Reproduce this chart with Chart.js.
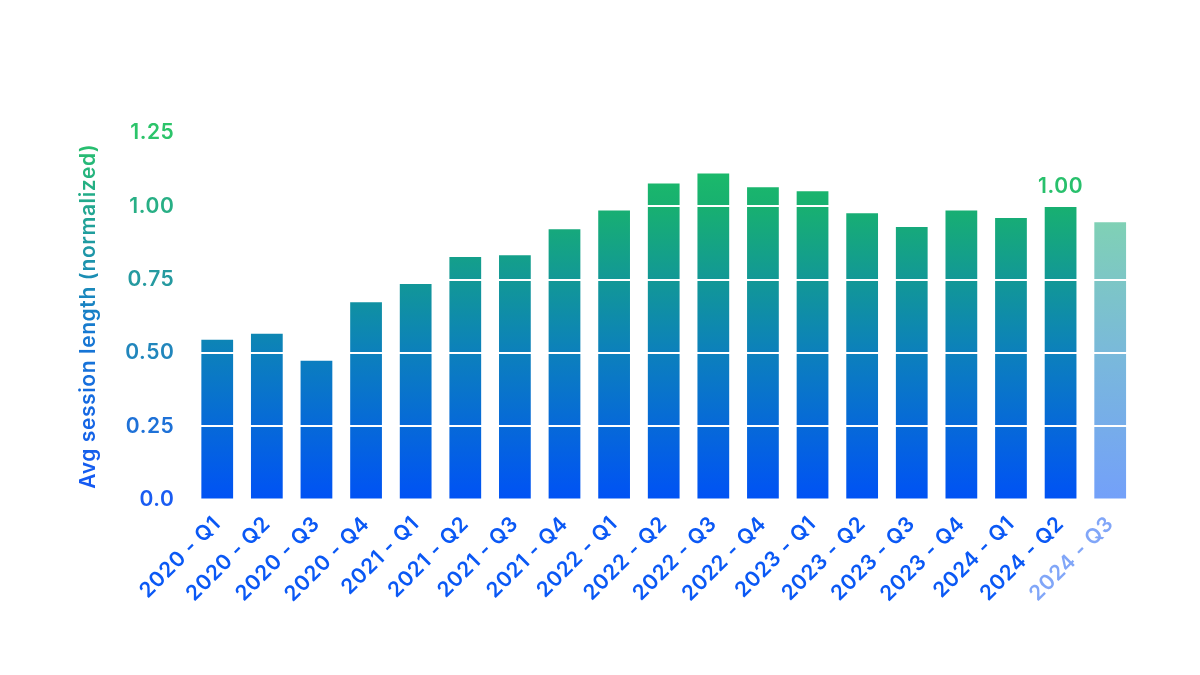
<!DOCTYPE html>
<html>
<head>
<meta charset="utf-8">
<script src="https://cdn.jsdelivr.net/npm/chart.js@4.4.1/dist/chart.umd.min.js"></script>
<style>
  html, body { margin: 0; padding: 0; background: #ffffff; }
  #wrap { width: 1200px; height: 675px; }
</style>
</head>
<body>
<div id="wrap"><canvas id="myChart" width="1200" height="675"></canvas></div>
<script>
const quarters = [
  "2020 - Q1", "2020 - Q2", "2020 - Q3", "2020 - Q4",
  "2021 - Q1", "2021 - Q2", "2021 - Q3", "2021 - Q4",
  "2022 - Q1", "2022 - Q2", "2022 - Q3", "2022 - Q4",
  "2023 - Q1", "2023 - Q2", "2023 - Q3", "2023 - Q4",
  "2024 - Q1", "2024 - Q2", "2024 - Q3"
];
const sessionLength = [
  0.545, 0.565, 0.473, 0.673,
  0.735, 0.827, 0.833, 0.922,
  0.986, 1.078, 1.112, 1.065,
  1.051, 0.976, 0.929, 0.986,
  0.960, 1.00, 0.946
];
// last quarter is still in progress -> drawn faded
const partialQuarter = [
  false, false, false, false, false, false, false, false, false, false,
  false, false, false, false, false, false, false, false, true
];
const yTicks = [0, 0.25, 0.5, 0.75, 1.0, 1.25];
const labelledIndex = 17;

const BLUE = [26, 92, 242];
const GREEN = [44, 196, 106];
const FONT = "Inter";

function mix(a, b, t, alpha) {
  t = Math.max(0, Math.min(1, t));
  const c = a.map((v, i) => Math.round(v + (b[i] - v) * t));
  return `rgba(${c[0]}, ${c[1]}, ${c[2]}, ${alpha === undefined ? 1 : alpha})`;
}

const ctx = document.getElementById("myChart").getContext("2d");

// gradient for the rotated axis title (rotated coordinate space, +x is up)
const titleGradient = ctx.createLinearGradient(-175, 0, 175, 0);
titleGradient.addColorStop(0, "rgb(20, 88, 244)");
titleGradient.addColorStop(0.45, "rgb(22, 120, 210)");
titleGradient.addColorStop(1, "rgb(40, 192, 108)");

const barGradients = {};
function barFill(context) {
  const chart = context.chart;
  const area = chart.chartArea;
  if (!area) return "rgb(0, 85, 240)";
  const faded = partialQuarter[context.dataIndex];
  const key = (faded ? "f" : "s") + area.top + "-" + area.bottom;
  if (!barGradients[key]) {
    const a = faded ? 0.55 : 1;
    const g = chart.ctx.createLinearGradient(0, area.bottom, 0, area.top);
    g.addColorStop(0, `rgba(0, 82, 245, ${a})`);
    g.addColorStop(0.4, `rgba(12, 128, 188, ${a})`);
    g.addColorStop(0.8, `rgba(24, 176, 112, ${a})`);
    g.addColorStop(1, `rgba(30, 196, 100, ${a})`);
    barGradients[key] = g;
  }
  return barGradients[key];
}

// the reference type is a wide geometric face, so open the spacing a little
const spacing = {
  id: "spacing",
  beforeUpdate(chart) { chart.ctx.letterSpacing = "0.6px"; },
  beforeDraw(chart) { chart.ctx.letterSpacing = "0.6px"; }
};

const valueLabel = {
  id: "valueLabel",
  afterDatasetsDraw(chart) {
    const bar = chart.getDatasetMeta(0).data[labelledIndex];
    if (!bar) return;
    const c = chart.ctx;
    c.save();
    c.font = `600 21px ${FONT}`;
    c.fillStyle = "rgb(40, 192, 108)";
    c.textAlign = "center";
    c.textBaseline = "bottom";
    c.fillText(sessionLength[labelledIndex].toFixed(2), bar.x, bar.y - 9);
    c.restore();
  }
};

new Chart(ctx, {
  type: "bar",
  data: {
    labels: quarters,
    datasets: [{
      label: "Avg session length (normalized)",
      data: sessionLength,
      backgroundColor: barFill,
      borderWidth: 0,
      barPercentage: 0.8,
      categoryPercentage: 0.8
    }]
  },
  options: {
    responsive: false,
    animation: false,
    layout: { padding: { left: 76, right: 65, top: 133, bottom: 64 } },
    plugins: {
      legend: { display: false },
      tooltip: { enabled: false }
    },
    scales: {
      x: {
        grid: { display: false },
        border: { display: false },
        ticks: {
          maxRotation: 45,
          minRotation: 45,
          padding: 4,
          font: { family: FONT, size: 21, weight: 600 },
          color: (c) => partialQuarter[c.index] ? "rgba(26, 92, 242, 0.55)" : "rgb(10, 88, 245)"
        }
      },
      y: {
        min: 0,
        max: 1.25,
        afterBuildTicks: (axis) => { axis.ticks = yTicks.map(v => ({ value: v })); },
        border: { display: false },
        grid: { color: "#ffffff", lineWidth: 2, drawTicks: false, z: 1 },
        ticks: {
          padding: 18,
          font: { family: FONT, size: 21, weight: 600 },
          color: (c) => mix(BLUE, GREEN, c.tick.value / 1.25),
          callback: (v) => v === 0 ? "0.0" : v.toFixed(2)
        },
        title: {
          display: true,
          text: "Avg session length (normalized)",
          font: { family: FONT, size: 21, weight: 600 },
          color: titleGradient,
          padding: { top: 0, bottom: 6 }
        }
      }
    }
  },
  plugins: [spacing, valueLabel]
});
</script>
</body>
</html>
